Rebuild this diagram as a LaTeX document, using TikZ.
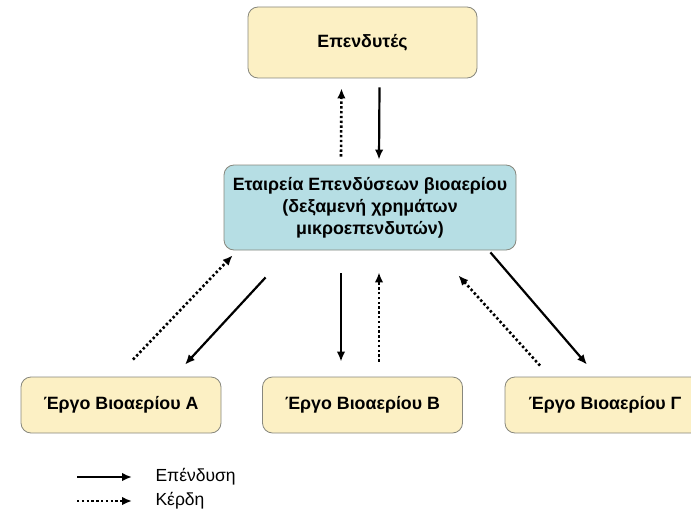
\documentclass[tikz,border=0pt]{standalone}
\usepackage{fontspec}
\setmainfont{Liberation Sans}
\usetikzlibrary{arrows.meta, positioning}
\definecolor{boxYellow}{RGB}{252, 240, 196}
\definecolor{boxBlue}{RGB}{182, 222, 228}
\definecolor{boxEdge}{RGB}{135, 135, 125}

\begin{document}
\begin{tikzpicture}[
    x=1pt, y=-1pt,
    party_node/.style={
        rectangle,
        draw=boxEdge,
        line width=0.8pt,
        rounded corners=10pt,
        fill=boxYellow,
        align=center,
        font=\fontsize{17.8}{22}\selectfont\bfseries
    },
    fund_node/.style={
        party_node,
        fill=boxBlue
    },
    project_node/.style={
        party_node,
        minimum width=200pt,
        minimum height=56pt
    },
    invest/.style={
        -{Latex[length=10pt, width=8.5pt]},
        line width=2.2pt,
        draw=black
    },
    profit/.style={
        -{Latex[length=10pt, width=8.5pt]},
        line width=2.6pt,
        dash pattern=on 2.4pt off 2.4pt,
        draw=black
    },
    legend_text/.style={
        anchor=west,
        font=\fontsize{17.5}{20}\selectfont
    }
]
    \useasboundingbox (0,0) rectangle (691,511);
    \clip (0,0) rectangle (691,511);

    % Investors and fund
    \node[party_node, minimum width=229pt, minimum height=71pt] (investors) at (362.5, 42.5) {Επενδυτές};
    \node[fund_node, minimum width=292pt, minimum height=85pt] (fund) at (370, 207.5) {
        Εταιρεία Επενδύσεων βιοαερίου\\
        (δεξαμενή χρημάτων\\
        μικροεπενδυτών)
    };

    % Projects
    \node[project_node] (projA) at (121, 405) {Έργο Βιοαερίου Α};
    \node[project_node] (projB) at (362.5, 405) {Έργο Βιοαερίου Β};
    \node[project_node] (projG) at (605, 405) {Έργο Βιοαερίου Γ};

    % Investors <-> fund
    \draw[profit] ([shift={(-29,-8)}]fund.north) -- ([shift={(-21,10)}]investors.south);
    \draw[invest] ([shift={(17,9)}]investors.south) -- ([shift={(9,-5)}]fund.north);

    % Fund <-> projects
    \draw[profit] ([shift={(12,-17)}]projA.north) -- ([shift={(9,5)}]fund.south west);
    \draw[invest] ([shift={(42,27)}]fund.south west) -- ([shift={(64,-12)}]projA.north);
    \draw[invest] ([shift={(-29,23)}]fund.south) -- ([shift={(-21.5,-15)}]projB.north);
    \draw[profit] ([shift={(16.5,-15)}]projB.north) -- ([shift={(9,22)}]fund.south);
    \draw[invest] ([shift={(-26,2)}]fund.south east) -- ([shift={(-18,-12)}]projG.north);
    \draw[profit] ([shift={(-65,-11)}]projG.north) -- ([shift={(-58,25)}]fund.south east);

    % Legend
    \node[legend_text] (legInvest) at (152, 477) {Επένδυση};
    \node[legend_text] (legProfit) at (152, 501) {Κέρδη};
    \coordinate (legInvestStart) at (77, 477);
    \coordinate (legProfitStart) at (77, 501);
    \draw[invest] (legInvestStart) -- ([xshift=-20pt]legInvest.west);
    \draw[profit] (legProfitStart) -- ([xshift=-20pt]legProfit.west);
\end{tikzpicture}
\end{document}
